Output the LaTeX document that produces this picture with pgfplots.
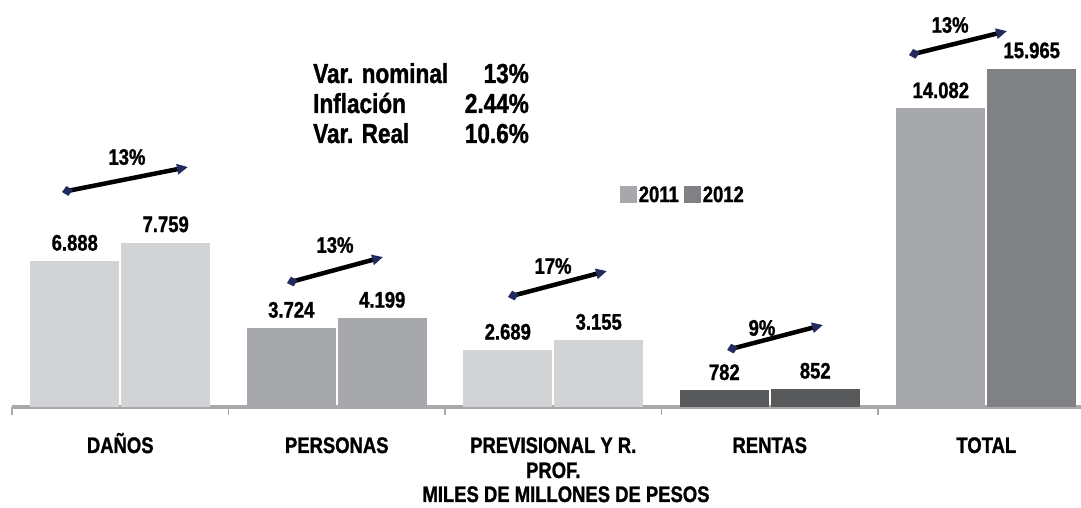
\documentclass[border=0pt]{standalone}
\usepackage{fontspec}
\setmainfont{Liberation Sans}[FakeStretch=0.82, BoldFeatures={FakeBold=1.2}]
\usepackage{pgfplots}
\pgfplotsset{compat=1.18}
\usetikzlibrary{arrows.meta}
\definecolor{clight}{HTML}{D2D3D5}
\definecolor{cmed}{HTML}{A7A8AB}
\definecolor{cdark}{HTML}{58595B}
\definecolor{ctot}{HTML}{808184}
\definecolor{axgray}{HTML}{A9A9AB}
\definecolor{navyhead}{HTML}{222A5E}
\newcommand{\lblfont}{\fontsize{22.5}{25}\selectfont\bfseries}
\newcommand{\boxfont}{\fontsize{27.5}{30}\selectfont\bfseries}
\tikzset{arr/.style={line width=4.5pt, black, {Diamond[length=11pt,width=10pt,color=navyhead]}-{Triangle[length=11pt,width=10pt,color=navyhead]}}}
\pgfplotsset{sqleg/.style={legend image code/.code={\fill[#1, draw=none] (0pt,-8.5pt) rectangle (17pt,8.5pt);}}}
\begin{document}
\begin{tikzpicture}
\useasboundingbox (-12pt,-101pt) rectangle (1069pt,407pt);
\begin{axis}[
  scale only axis, width=1069pt, height=407pt,
  xmin=-0.5, xmax=4.4376, ymin=0, ymax=19200,
  clip=false,
  axis y line=none, axis x line=bottom,
  x axis line style={-, draw=axgray, line width=3.5pt},
  xtick={0,1,2,3,4},
  xticklabels={DAÑOS,PERSONAS,{\begin{tabular}[t]{@{}c@{}}PREVISIONAL Y R.\\PROF.\end{tabular}},RENTAS,TOTAL},
  major tick length=0pt,
  minor xtick={-0.5,0.5,1.5,2.5,3.5},
  minor tick length=8pt,
  xtick align=outside,
  minor tick style={draw=axgray, line width=1.2pt},
  xticklabel style={font=\lblfont, anchor=base, yshift=-46pt},
  ybar, bar width=0.41,
  every node near coord/.append style={font=\lblfont, anchor=south, inner sep=0pt, yshift=10pt},
  legend style={at={(0.566,0.521)}, anchor=west, draw=none, fill=none,
    legend columns=2, font=\lblfont,
    /tikz/every even column/.append style={column sep=4pt},
    nodes={inner sep=1.5pt}},
  legend cell align=left,
]
% 2011
\addplot[bar shift=-0.21, fill=clight, draw=none, nodes near coords, point meta=explicit symbolic, forget plot] coordinates {(0,6888) [6.888]};
\addplot[bar shift=-0.21, fill=cmed, draw=none, nodes near coords, point meta=explicit symbolic, forget plot] coordinates {(1,3724) [3.724]};
\addplot[bar shift=-0.21, fill=clight, draw=none, nodes near coords, point meta=explicit symbolic, forget plot] coordinates {(2,2689) [2.689]};
\addplot[bar shift=-0.21, fill=cdark, draw=none, nodes near coords, point meta=explicit symbolic, forget plot] coordinates {(3,782) [782]};
\addplot[bar shift=-0.21, fill=cmed, draw=none, nodes near coords, point meta=explicit symbolic, forget plot] coordinates {(4,14082) [14.082]};
% 2012
\addplot[bar shift=0.21, fill=clight, draw=none, nodes near coords, point meta=explicit symbolic, forget plot] coordinates {(0,7759) [7.759]};
\addplot[bar shift=0.21, fill=cmed, draw=none, nodes near coords, point meta=explicit symbolic, forget plot] coordinates {(1,4199) [4.199]};
\addplot[bar shift=0.21, fill=clight, draw=none, nodes near coords, point meta=explicit symbolic, forget plot] coordinates {(2,3155) [3.155]};
\addplot[bar shift=0.21, fill=cdark, draw=none, nodes near coords, point meta=explicit symbolic, forget plot] coordinates {(3,852) [852]};
\addplot[bar shift=0.21, fill=ctot, draw=none, nodes near coords, point meta=explicit symbolic, forget plot] coordinates {(4,15965) [15.965]};
\addlegendimage{sqleg, fill=cmed}
\addlegendentry{2011}
\addlegendimage{sqleg, fill=ctot}
\addlegendentry{2012}
% growth arrows
\draw[arr] (axis cs:-0.269,10140) -- (axis cs:0.313,11320);
\node[font=\lblfont] at (axis cs:0.031,11790) {13\%};
\draw[arr] (axis cs:0.770,5850) -- (axis cs:1.214,7075);
\node[font=\lblfont] at (axis cs:0.992,7640) {13\%};
\draw[arr] (axis cs:1.791,5190) -- (axis cs:2.248,6415);
\node[font=\lblfont] at (axis cs:1.999,6650) {17\%};
\draw[arr] (axis cs:2.803,2690) -- (axis cs:3.246,3870);
\node[font=\lblfont] at (axis cs:2.964,3730) {9\%};
\draw[arr] (axis cs:3.643,16600) -- (axis cs:4.096,17735);
\node[font=\lblfont] at (axis cs:3.833,18020) {13\%};
\end{axis}
% summary box
\node[anchor=base west, inner sep=0pt, font=\boxfont] at (301pt,324pt) {Var. nominal};
\node[anchor=base east, inner sep=0pt, font=\boxfont] at (517pt,324pt) {13\%};
\node[anchor=base west, inner sep=0pt, font=\boxfont] at (301pt,294pt) {Inflación};
\node[anchor=base east, inner sep=0pt, font=\boxfont] at (517pt,294pt) {2.44\%};
\node[anchor=base west, inner sep=0pt, font=\boxfont] at (301pt,264pt) {Var. Real};
\node[anchor=base east, inner sep=0pt, font=\boxfont] at (517pt,264pt) {10.6\%};
% axis title
\node[anchor=base, inner sep=0pt, font=\lblfont] at (554pt,-95pt) {MILES DE MILLONES DE PESOS};
\end{tikzpicture}
\end{document}
